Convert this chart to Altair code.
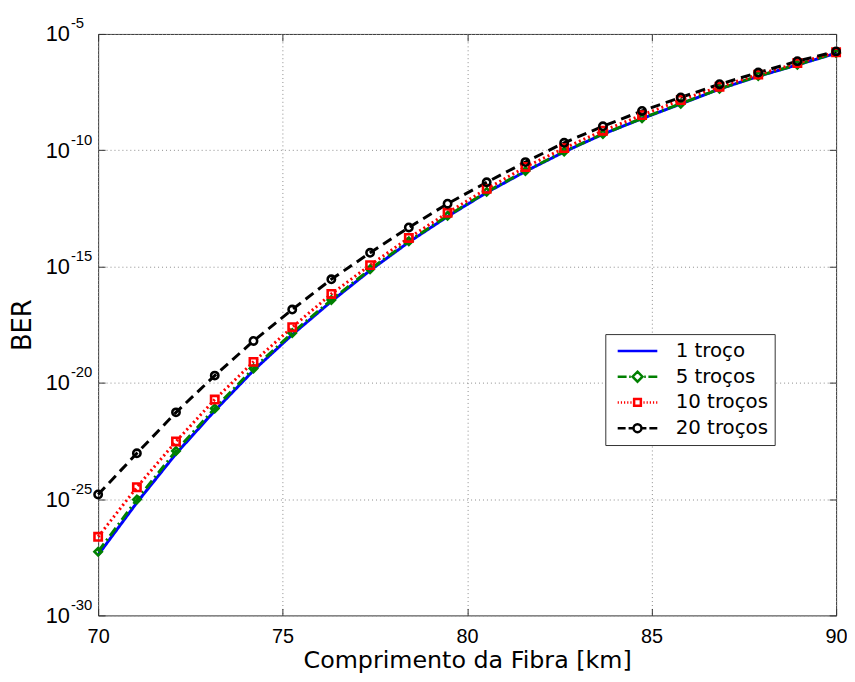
import altair as alt
import pandas as pd

# ---------------- data ----------------
comprimento_km = [70.0, 71.05, 72.11, 73.16, 74.21, 75.26, 76.32, 77.37, 78.42, 79.47,
                  80.53, 81.58, 82.63, 83.68, 84.74, 85.79, 86.84, 87.89, 88.95, 90.0]

series_names = ["1 troço", "5 troços", "10 troços", "20 troços"]

# log10(BER) for each series
log_ber_1 = [-27.40, -25.15, -23.05, -21.20, -19.47, -17.93, -16.50, -15.17, -13.95, -12.85,
             -11.82, -10.91, -10.07, -9.31, -8.64, -8.01, -7.37, -6.82, -6.33, -5.83]
log_ber_5 = [-27.26, -25.02, -22.93, -21.10, -19.38, -17.86, -16.44, -15.12, -13.91, -12.82,
             -11.79, -10.89, -10.05, -9.30, -8.63, -8.00, -7.36, -6.81, -6.32, -5.82]
log_ber_10 = [-26.62, -24.49, -22.52, -20.72, -19.10, -17.61, -16.18, -14.94, -13.77, -12.69,
              -11.66, -10.72, -9.91, -9.16, -8.49, -7.84, -7.27, -6.75, -6.25, -5.79]
log_ber_20 = [-24.80, -23.03, -21.27, -19.69, -18.20, -16.85, -15.55, -14.41, -13.32, -12.30,
              -11.38, -10.51, -9.68, -8.97, -8.31, -7.73, -7.16, -6.66, -6.17, -5.75]

series_colors = ["#0000ff", "#008000", "#ff0000", "#000000"]
series_dash = [[1, 0], [10, 4, 2, 4], [2, 3], [10, 6]]
marker_names = ["5 troços", "10 troços", "20 troços"]
marker_shapes = ["diamond", "square", "circle"]
marker_colors = ["#008000", "#ff0000", "#000000"]

# legend glyphs: line style + marker drawn as one symbol path
legend_glyphs = [
    "M-1,0L1,0",
    "M-1,0L-0.55,0M-0.42,0L-0.34,0M0,-0.25L0.25,0L0,0.25L-0.25,0ZM0.34,0L0.42,0M0.55,0L1,0",
    "M-1,0L-0.94,0M-0.84,0L-0.78,0M-0.68,0L-0.62,0M-0.52,0L-0.46,0M-0.36,0L-0.30,0"
    "M-0.17,-0.17L0.17,-0.17L0.17,0.17L-0.17,0.17Z"
    "M0.30,0L0.36,0M0.46,0L0.52,0M0.62,0L0.68,0M0.78,0L0.84,0M0.94,0L1,0",
    "M-1,0L-0.6,0M-0.45,0L-0.2,0M0.2,0A0.2,0.2,0,1,1,-0.2,0A0.2,0.2,0,1,1,0.2,0"
    "M0.2,0L0.45,0M0.6,0L1,0",
]

x_tick_values = [70, 75, 80, 85, 90]
y_tick_values = [1e-30, 1e-25, 1e-20, 1e-15, 1e-10, 1e-5]

rows = []
for k, (name, vals) in enumerate(zip(series_names, [log_ber_1, log_ber_5, log_ber_10, log_ber_20])):
    for x, v in zip(comprimento_km, vals):
        rows.append({"km": x, "BER": 10.0 ** v, "serie": name, "ordem": k})
df = pd.DataFrame(rows)

FONT_NUM = "Liberation Sans"
FONT_TXT = "DejaVu Sans"
FRAME = "#333333"

x_scale = alt.Scale(domain=[70, 90], nice=False, zero=False)
y_scale = alt.Scale(type="log", domain=[1e-30, 1e-5], nice=False)

base = alt.Chart(df)

# ---- layer 1: lines, main axes with labels + grid
lines = base.mark_line(strokeWidth=3).encode(
    x=alt.X("km:Q", scale=x_scale,
            axis=alt.Axis(values=x_tick_values, format="d", title="Comprimento da Fibra [km]",
                          tickSize=0, labelPadding=11, labelFontSize=20, labelFont=FONT_NUM,
                          labelFlush=False, grid=True, domain=False,
                          titleFont=FONT_TXT, titleFontSize=24, titleFontWeight="normal",
                          titleBaseline="alphabetic", titleY=53)),
    y=alt.Y("BER:Q", scale=y_scale,
            axis=alt.Axis(values=y_tick_values, labelExpr="'10'", title="BER",
                          tickSize=0, labelPadding=29, labelFontSize=22, labelFont=FONT_NUM,
                          labelFlush=False, labelOverlap=False, grid=True, domain=False,
                          titleFont=FONT_TXT, titleFontSize=26, titleFontWeight="normal",
                          titleBaseline="alphabetic", titleX=-68, titleY=293.5, titleAngle=270)),
    color=alt.Color("serie:N", scale=alt.Scale(domain=series_names, range=series_colors), legend=None),
    strokeDash=alt.StrokeDash("serie:N", scale=alt.Scale(domain=series_names, range=series_dash), legend=None),
    detail="ordem:O",
    order=alt.Order("km:Q"),
)

# ---- layer 2: markers, inward ticks (bottom/left) and exponent labels
points = base.transform_filter("datum.ordem > 0").mark_point(
    filled=False, size=55, strokeWidth=2.6, opacity=1
).encode(
    x=alt.X("km:Q", scale=x_scale,
            axis=alt.Axis(orient="bottom", offset=-7, tickSize=7, values=x_tick_values,
                          labels=False, domain=False, grid=False, title=None)),
    y=alt.Y("BER:Q", scale=y_scale,
            axis=alt.Axis(orient="left", offset=-7, tickSize=7, values=y_tick_values,
                          labelExpr="'' + round(log(datum.value) / LN10)",
                          labelAlign="left", labelPadding=28, labelOffset=-11,
                          labelFontSize=15, labelFont=FONT_NUM, labelFlush=False,
                          labelOverlap=False, domain=False, grid=False, title=None)),
    color=alt.Color("serie:N", scale=alt.Scale(domain=marker_names, range=marker_colors), legend=None),
    shape=alt.Shape("serie:N", scale=alt.Scale(domain=marker_names, range=marker_shapes), legend=None),
)

# ---- layer 3: legend only (no drawn rows), inward ticks on top/right
legend_layer = base.transform_filter("false").mark_point(
    filled=False, strokeWidth=2.5, opacity=1
).encode(
    x=alt.X("km:Q", scale=x_scale,
            axis=alt.Axis(orient="top", offset=-7, tickSize=7, values=x_tick_values,
                          labels=False, domain=False, grid=False, title=None)),
    y=alt.Y("BER:Q", scale=y_scale,
            axis=alt.Axis(orient="right", offset=-7, tickSize=7, values=y_tick_values,
                          labels=False, domain=False, grid=False, title=None)),
    color=alt.Color("serie:N", scale=alt.Scale(domain=series_names, range=series_colors),
                    legend=alt.Legend(title=None)),
    shape=alt.Shape("serie:N", scale=alt.Scale(domain=series_names, range=legend_glyphs),
                    legend=alt.Legend(
                        title=None, orient="none", legendX=512, legendY=303,
                        padding=6, strokeColor=FRAME, fillColor="white", cornerRadius=0,
                        symbolSize=1600, symbolStrokeWidth=2.5, clipHeight=22, rowPadding=4,
                        symbolOffset=5, labelOffset=17, labelFontSize=20, labelFont=FONT_TXT,
                        labelColor="black", labelExpr="datum.label + '\u00a0\u00a0\u00a0'")),
)

chart = alt.layer(lines, points, legend_layer).resolve_scale(
    color="independent", shape="independent"
).resolve_axis(
    x="independent", y="independent"
).properties(
    width=745, height=587,
    autosize=alt.AutoSizeParams(type="none"),
    padding={"left": 91, "top": 23, "right": 11, "bottom": 60},
    background="white",
).configure_view(
    stroke=FRAME, strokeWidth=1
).configure_axis(
    labelColor="black", titleColor="black", tickColor=FRAME,
    gridColor="#8c8c8c", gridDash=[1, 3], gridWidth=1, gridOpacity=1,
)

chart.save("out.html", embed_options={"renderer": "svg", "actions": False})
